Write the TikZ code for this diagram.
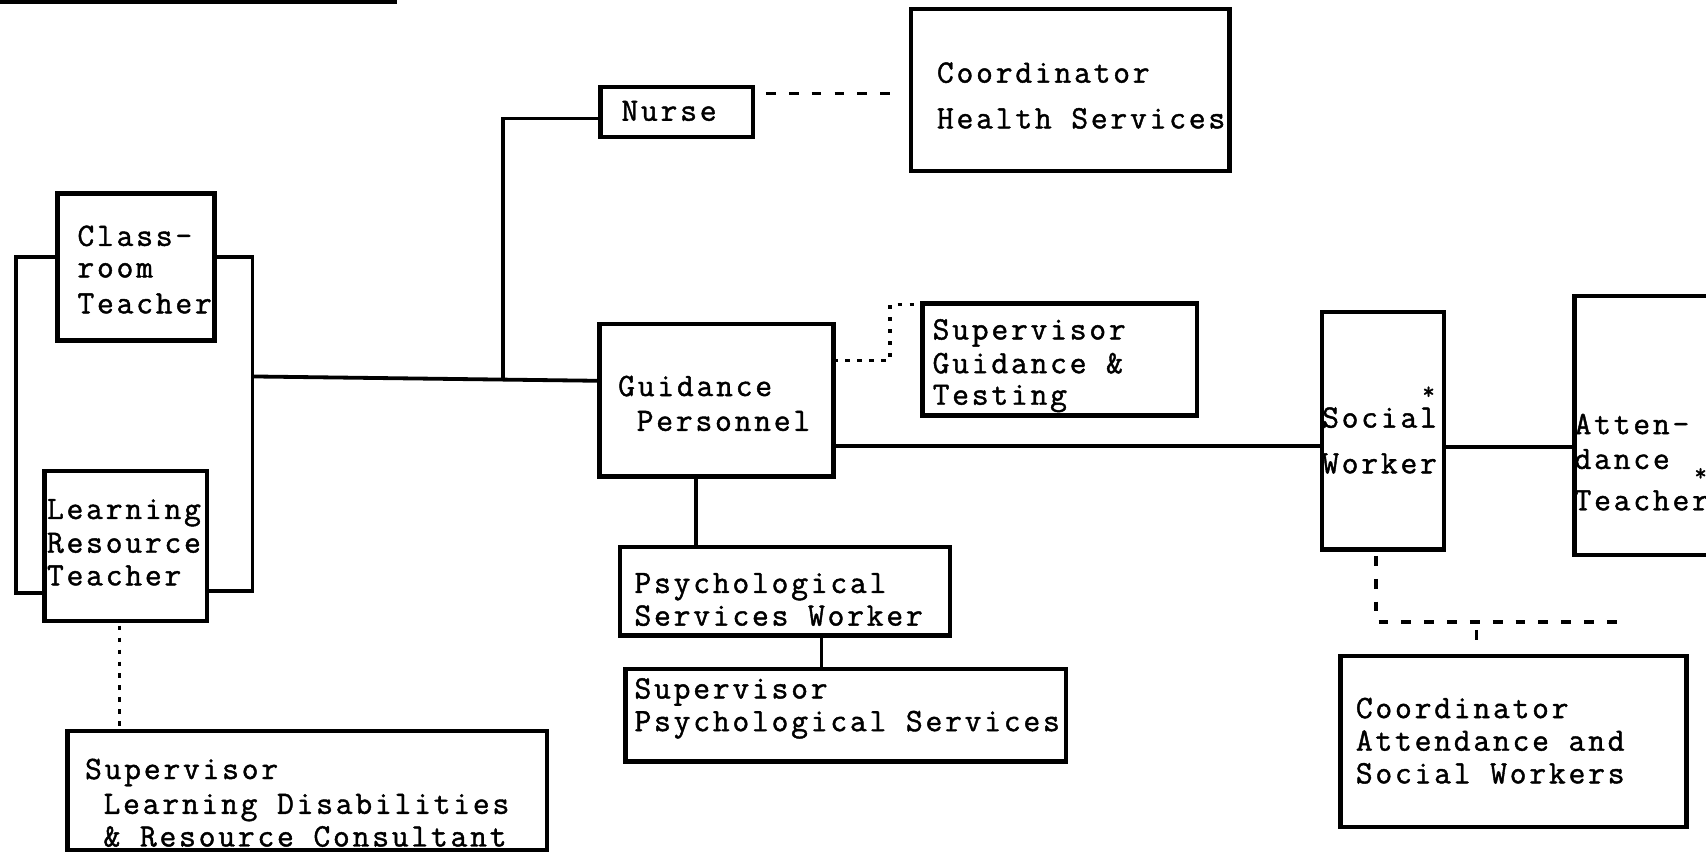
\documentclass[tikz,border=0pt]{standalone}
\usepackage{fontspec}
\setmonofont[LetterSpace=8.5,FakeBold=1.3]{Latin Modern Mono}
\begin{document}
\begin{tikzpicture}[x=1pt,y=-1pt,
 box/.style={draw, line width=4pt, inner sep=0pt, outer sep=0pt},
 txt/.style={inner sep=0pt, anchor=base west, font=\ttfamily\fontsize{30}{32}\selectfont},
 startxt/.style={inner sep=0pt, anchor=center, font=\ttfamily\fontsize{22}{24}\selectfont},
 conn/.style={line width=3.5pt},
 dashconn/.style={line width=3.5pt, dash pattern=on 9pt off 12pt},
 dotconn/.style={line width=3pt, dash pattern=on 4pt off 7pt}]
\useasboundingbox (0,0) rectangle (1568,784);
\clip (0,0) rectangle (1568,784);
\fill[white] (0,0) rectangle (1568,784);

% top rule
\coordinate (tl) at (0,1);
\coordinate (tr) at (365,1);
\draw[line width=4.5pt] (tl) -- (tr);

% boxes
\node[box, minimum width=144pt, minimum height=135pt] (class) at (125,245.5) {};
\node[box, minimum width=149pt, minimum height=138pt] (lrt) at (115.5,502) {};
\node[box, minimum width=140pt, minimum height=46pt] (nurse) at (622,103) {};
\node[box, minimum width=293pt, minimum height=149pt] (chs) at (983.5,82.5) {};
\node[box, minimum width=215pt, minimum height=140pt] (guid) at (658.5,368) {};
\node[box, minimum width=252pt, minimum height=103pt] (sgt) at (974,330.5) {};
\node[box, minimum width=112pt, minimum height=218pt] (social) at (1271,396) {};
\node[box, minimum width=133pt, minimum height=238pt] (att) at (1513.5,391) {};
\node[box, minimum width=318pt, minimum height=157pt] (cas) at (1391,681.5) {};
\node[box, minimum width=303pt, minimum height=81pt] (psw) at (721.5,543.5) {};
\node[box, minimum width=405pt, minimum height=85pt] (sps) at (777.5,657.5) {};
\node[box, minimum width=441pt, minimum height=109pt] (sld) at (282.5,726.5) {};

% texts
\node[txt] (t1) at (71,226) {Class-};
\node[txt] (t2) at (71,255) {room};
\node[txt] (t3) at (71,288) {Teacher};
\node[txt] (t4) at (43,477) {Learning};
\node[txt] (t5) at (43,508) {Resource};
\node[txt] (t6) at (43,538) {Teacher};
\node[txt] (t7) at (571,111) {Nurse};
\node[txt] (t8) at (861,76) {Coordinator};
\node[txt] (t9) at (861,118) {Health Services};
\node[txt] (t10) at (568,364) {Guidance};
\node[txt] (t11) at (585,396) {Personnel};
\node[txt] (t12) at (857,312) {Supervisor};
\node[txt] (t13) at (857,343) {Guidance \&};
\node[txt] (t14) at (857,372) {Testing};
\node[txt] (t15) at (1215,393) {Social};
\node[txt] (t16) at (1215,435) {Worker};
\node[startxt] (s1) at (1313,361) {*};
\node[txt] (t17) at (1447,399) {Atten-};
\node[txt] (t18) at (1447,431) {dance};
\node[txt] (t19) at (1447,469) {Teacher};
\node[startxt] (s2) at (1563,436) {*};
\node[txt] (t20) at (1246,660) {Coordinator};
\node[txt] (t21) at (1246,690) {Attendance and};
\node[txt] (t22) at (1246,720) {Social Workers};
\node[txt] (t23) at (583,545) {Psychological};
\node[txt] (t24) at (583,575) {Services Worker};
\node[txt] (t25) at (583,642) {Supervisor};
\node[txt] (t26) at (583,672) {Psychological Services};
\node[txt] (t27) at (78,716) {Supervisor};
\node[txt] (t28) at (95,748) {Learning Disabilities};
\node[txt] (t29) at (95,778) {\& Resource Consultant};

% helper coordinates
\coordinate (ybr) at (0,236);
\coordinate (ybl) at (0,545);
\coordinate (ybr2) at (0,543);
\coordinate (brL) at (15,400);
\coordinate (brR) at (232,346);
\coordinate (jn) at (462,350);
\coordinate (ynr) at (0,109);
\coordinate (yn) at (0,86);
\coordinate (yg) at (0,331);
\coordinate (gx) at (818,305);
\coordinate (ygt) at (0,280);
\coordinate (ys) at (0,410);
\coordinate (ya) at (0,411);
\coordinate (sx) at (1265,0);
\coordinate (dr) at (1487,572);
\coordinate (dj) at (1357,571);
\coordinate (px) at (640,0);
\coordinate (qx) at (755,0);
\coordinate (lx) at (110,0);

% brackets
\draw[conn] (class.west |- ybr) -| (brL) |- (lrt.west |- ybl);
\draw[conn] (class.east |- ybr) -| (brR) |- (lrt.east |- ybr2);
% main line
\draw[conn] (brR) -- (guid.west |- jn);
\draw[conn] (jn) |- (nurse.west |- ynr);
% nurse - coordinator
\draw[dashconn, shorten <=12pt, shorten >=14pt] (nurse.east |- yn) -- (chs.west |- yn);
% guidance - supervisor guidance
\draw[dotconn, shorten >=3pt] (guid.east |- yg) -| (gx) |- (sgt.west |- ygt);
% guidance - social
\draw[conn] (guid.east |- ys) -- (social.west |- ys);
\draw[conn] (social.east |- ya) -- (att.west |- ya);
% social - coordinator attendance
\draw[dashconn, shorten <=6pt] (social.south -| sx) |- (dr);
\draw[dashconn, shorten <=8pt, shorten >=12pt] (dj) -- (cas.north -| dj);
% guidance - psych
\draw[conn] (guid.south -| px) -- (psw.north -| px);
\draw[conn] (psw.south -| qx) -- (sps.north -| qx);
% lrt - sld
\draw[dotconn, shorten <=4pt] (lrt.south -| lx) -- (sld.north -| lx);
\end{tikzpicture}
\end{document}
